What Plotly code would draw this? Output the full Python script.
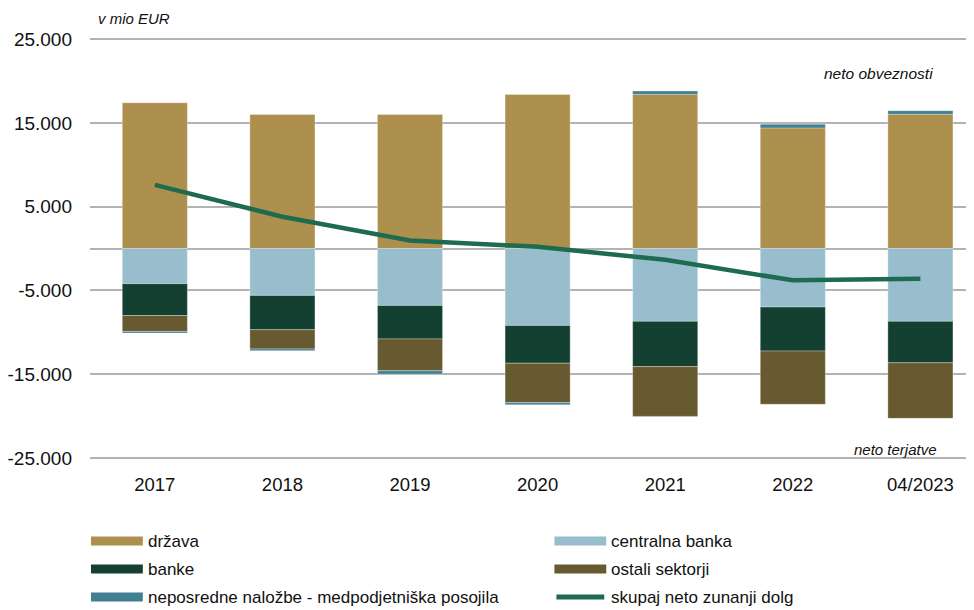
import plotly.graph_objects as go

categories = ["2017", "2018", "2019", "2020", "2021", "2022", "04/2023"]
drzava = [17400, 16000, 16000, 18400, 18400, 14400, 16040]
centralna_banka = [-4200, -5600, -6800, -9200, -8700, -7000, -8700]
banke = [-3800, -4100, -4000, -4500, -5400, -5250, -4950]
ostali_sektorji = [-1900, -2300, -3800, -4700, -5950, -6350, -6630]
neposredne = [-200, -200, -400, -250, 400, 450, 420]
skupaj = [7600, 3800, 950, 200, -1350, -3800, -3600]

series_names = ["država", "centralna banka", "banke", "ostali sektorji",
                "neposredne naložbe - medpodjetniška posojila", "skupaj neto zunanji dolg"]
y_ticks = [25000, 15000, 5000, -5000, -15000, -25000]
y_tick_text = ["25.000", "15.000", "5.000", "-5.000", "-15.000", "-25.000"]

colors = ["#AD904E", "#98BECE", "#144032", "#675A30", "#437F93", "#1F6B4F"]

TICK_FONT = "Liberation Sans, Arial, sans-serif"
TEXT_FONT = "Liberation Sans, Arial, sans-serif"

OFF = 8  # page body margin in the browser
W, H = 974 - OFF, 610 - OFF
L, R, T, B = 79, 0, 30, 151
PW, PH = W - L - R, H - T - B

def px(x):
    # x in reference-screenshot pixels -> paper
    return (x - OFF - L) / PW

def py(y):
    return (H - B - (y - OFF)) / PH

fig = go.Figure()
bar_series = [drzava, centralna_banka, banke, ostali_sektorji, neposredne]
for vals, name, col in zip(bar_series, series_names[:5], colors[:5]):
    fig.add_trace(go.Bar(x=categories, y=vals, name=name, width=0.51,
                         marker=dict(color=col, line=dict(color="rgba(255,255,255,0.5)", width=0.6)),
                         showlegend=False))
fig.add_trace(go.Scatter(x=categories, y=skupaj, name=series_names[5], mode="lines",
                         line=dict(color=colors[5], width=4.5), showlegend=False))

# manual legend
legend_pos = [(88, 541), (553, 541), (88, 569), (553, 569), (88, 597), (553, 597)]
for i, (lx, ly) in enumerate(legend_pos):
    if i < 5:
        fig.add_shape(type="rect", xref="paper", yref="paper",
                      x0=px(lx), x1=px(lx + 52), y0=py(ly - 4.5), y1=py(ly + 4.5),
                      fillcolor=colors[i], line=dict(width=0))
    else:
        fig.add_shape(type="line", xref="paper", yref="paper",
                      x0=px(lx + 2), x1=px(lx + 50), y0=py(ly), y1=py(ly),
                      line=dict(color=colors[i], width=5))
    fig.add_annotation(xref="paper", yref="paper", x=px(lx + 55), y=py(ly),
                       xanchor="left", yanchor="middle", showarrow=False,
                       text=series_names[i], font=dict(family=TEXT_FONT, size=17, color="#111111"))

fig.add_annotation(xref="paper", yref="paper", x=px(93), y=py(18), xanchor="left", yanchor="middle",
                   showarrow=False, text="<i>v mio EUR</i>",
                   font=dict(family=TEXT_FONT, size=15, color="#111111"))
fig.add_annotation(xref="paper", yref="paper", x=px(935), y=py(73), xanchor="right", yanchor="middle",
                   showarrow=False, text="<i>neto obveznosti</i>",
                   font=dict(family=TEXT_FONT, size=15.5, color="#111111"))
fig.add_annotation(xref="paper", yref="paper", x=px(939), y=py(449), xanchor="right", yanchor="middle",
                   showarrow=False, text="<i>neto terjatve</i>",
                   font=dict(family=TEXT_FONT, size=15, color="#111111"))

yr = 25000 * PH / 418.7
fig.update_layout(
    width=W, height=H, margin=dict(l=L, r=R, t=T, b=B, pad=0),
    barmode="relative", bargap=0.49,
    plot_bgcolor="white", paper_bgcolor="white",
    font=dict(family=TICK_FONT, color="#111111"),
)
fig.update_xaxes(range=[-0.508, 6.42], showgrid=False, showline=False, zeroline=False,
                 ticks="", tickfont=dict(family=TICK_FONT, size=18.5), ticklabelstandoff=12)
fig.update_yaxes(range=[-yr, yr], tickvals=y_ticks, ticktext=y_tick_text,
                 showgrid=True, gridcolor="#B3B3B3", gridwidth=1.5,
                 zeroline=True, zerolinecolor="#B3B3B3", zerolinewidth=1.5,
                 showline=False, ticks="", tickfont=dict(family=TICK_FONT, size=19),
                 ticklabelstandoff=17)

fig.write_html("out.html")
